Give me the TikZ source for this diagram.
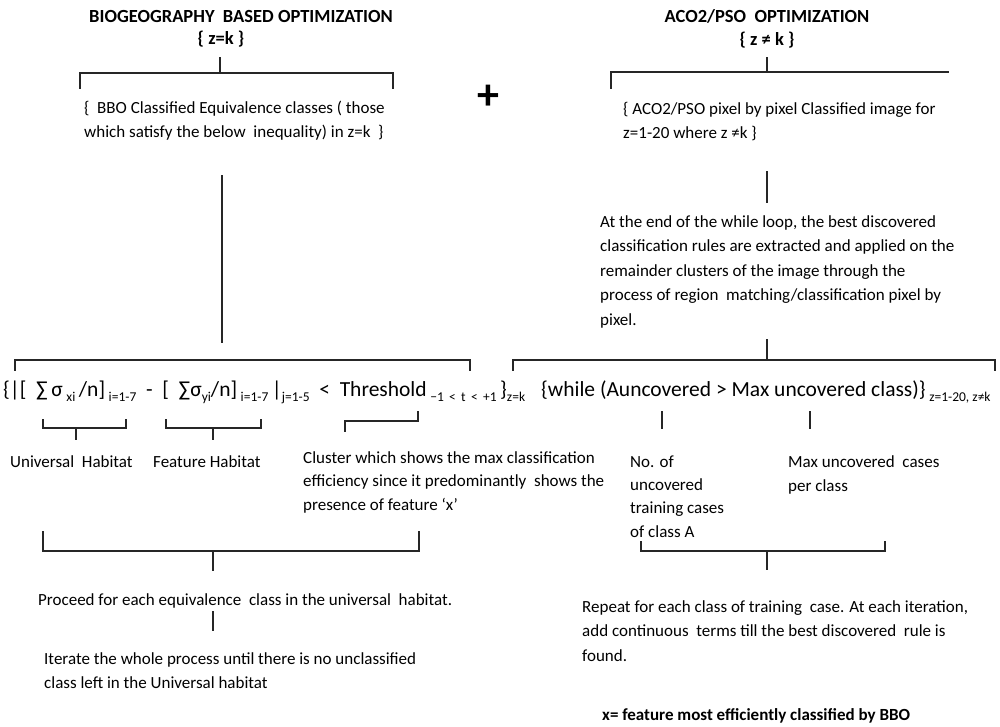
\documentclass[tikz,border=0pt]{standalone}
\usepackage{fontspec}
\setmainfont{Carlito}
\newcommand{\lowsub}[1]{\raisebox{-0.5ex}{\fontsize{13.5}{14}\selectfont #1}}
\begin{document}
\begin{tikzpicture}[x=1pt,y=-1pt,
  body/.style={font=\fontsize{17}{24.5}\selectfont, inner sep=0pt, align=left, anchor=base west},
  ttl/.style={font=\bfseries\fontsize{18.5}{20}\selectfont, inner sep=0pt, anchor=base},
  frm/.style={font=\fontsize{21.5}{24}\selectfont, inner sep=0pt, anchor=base west},
  ln/.style={line width=1.4pt, black!85, line cap=rect}]
\useasboundingbox (0,0) rectangle (1000,727);

% ---- biogeography based optimization branch (top left)
\node[ttl] (bboT) at (241,23) {BIOGEOGRAPHY\ \ BASED OPTIMIZATION};
\node[ttl] (bboZ) at (221,45) {\{ z=k \}};
\coordinate (bboS) at (220,58);
\coordinate (bboJ) at (220,73);
\draw[ln] (bboS) -- (bboJ);
\draw[ln] (80,88) -- (80,73) -- (393,73) -- (393,88);
% base anchor of a multi-line node sits on its last line
\node[body] (bboTxt) at (84,138) {\{ \ BBO Classified Equivalence classes ( those\\which satisfy the below \ inequality) in z=k \ \}};

\node[font=\bfseries\fontsize{44}{44}\selectfont, inner sep=0pt] (plus) at (488,97) {+};

% ---- ACO2/PSO branch (top right)
\node[ttl] (acoT) at (767,23) {ACO2/PSO \ OPTIMIZATION};
\node[ttl] (acoZ) at (767,46) {\{ z ≠ k \}};
\coordinate (acoS) at (767,58);
\coordinate (acoJ) at (767,72);
\draw[ln] (acoS) -- (acoJ);
\draw[ln] (611,88) -- (611,72) -- (948,72);
\node[body] (acoTxt) at (623,139) {\{ ACO2/PSO pixel by pixel Classified image for\\z=1-20 where z ≠k \}};

% ---- stems into the two inequalities
\coordinate (bboL1) at (222,176);
\coordinate (bboL2) at (222,342);
\draw[ln] (bboL1) -- (bboL2);
\coordinate (acoL1) at (767,172);
\coordinate (acoL2) at (767,202);
\draw[ln] (acoL1) -- (acoL2);
\node[body] (acoPar) at (600,325) {At the end of the while loop, the best discovered\\classification rules are extracted and applied on the\\remainder clusters of the image through the\\process of region \ matching/classification pixel by\\pixel.};
\coordinate (acoL3) at (767,340);
\coordinate (acoL4) at (767,360);
\draw[ln] (acoL3) -- (acoL4);
\draw[ln] (15,370) -- (15,360) -- (470,360) -- (470,370);
\draw[ln] (513,370) -- (513,360) -- (995,360) -- (995,370);

% ---- the two conditions
\node[frm] (ineq) at (3,396) {\{|[ \ ∑\,σ\,\lowsub{xi}\,/n]\,\lowsub{i=1-7} \ - \ [ \ ∑σ\lowsub{yi}/n]\,\lowsub{i=1-7}\,|\lowsub{j=1-5} \ < \ Threshold\,\lowsub{\textminus1 \,<\, t \,<\, +1}\,\}\lowsub{z=k}};
\node[frm] (whl) at (541,396) {\{while (Auncovered > Max uncovered class)\}\,\lowsub{z=1-20, z≠k}};

% ---- braces under the inequality
\draw[ln] (43,420) -- (43,428) -- (126,428) -- (126,420);
\coordinate (u1) at (76,428);
\coordinate (u2) at (76,439);
\draw[ln] (u1) -- (u2);
\draw[ln] (166,420) -- (166,428) -- (261,428) -- (261,420);
\coordinate (f1) at (213,428);
\coordinate (f2) at (213,439);
\draw[ln] (f1) -- (f2);
\draw[ln] (345,431) -- (345,421) -- (418,421) -- (418,412);
\coordinate (w1) at (662,412);
\coordinate (w2) at (662,428);
\draw[ln] (w1) -- (w2);
\coordinate (m1) at (810,412);
\coordinate (m2) at (810,428);
\draw[ln] (m1) -- (m2);

\node[body] (univ) at (10,467) {Universal \ Habitat};
\node[body] (feat) at (153,467) {Feature Habitat};
\node[body, font=\fontsize{17}{23.5}\selectfont] (clus) at (303,510) {Cluster which shows the max classification\\efficiency since it predominantly \ shows the\\presence of feature ‘x’};
\node[body, font=\fontsize{17}{23.3}\selectfont] (noof) at (630,537) {No. of\\uncovered\\training cases\\of class A};
\node[body, font=\fontsize{17}{23.5}\selectfont] (maxu) at (788,491) {Max uncovered \ cases\\per class};

% ---- lower brackets and conclusions
\draw[ln] (43,532) -- (43,551) -- (419,551) -- (419,532);
\coordinate (pb1) at (213,551);
\coordinate (pb2) at (213,570);
\draw[ln] (pb1) -- (pb2);
\node[body] (proc) at (38,605) {Proceed for each equivalence \ class in the universal \ habitat.};
\coordinate (pc1) at (213,612);
\coordinate (pc2) at (213,630);
\draw[ln] (pc1) -- (pc2);
\node[body, font=\fontsize{17}{23.5}\selectfont] (iter) at (44,688) {Iterate the whole process until there is no unclassified\\class left in the Universal habitat};

\draw[ln] (641,542) -- (641,551) -- (885,551) -- (885,542);
\coordinate (rb1) at (767,551);
\coordinate (rb2) at (767,569);
\draw[ln] (rb1) -- (rb2);
\node[body] (rep) at (582,661) {Repeat for each class of training \ case. At each iteration,\\add continuous \ terms till the best discovered \ rule is\\found.};
\node[body, font=\bfseries\fontsize{17}{24}\selectfont] (xdef) at (602,720) {x= feature most efficiently classified by BBO};
\end{tikzpicture}
\end{document}
